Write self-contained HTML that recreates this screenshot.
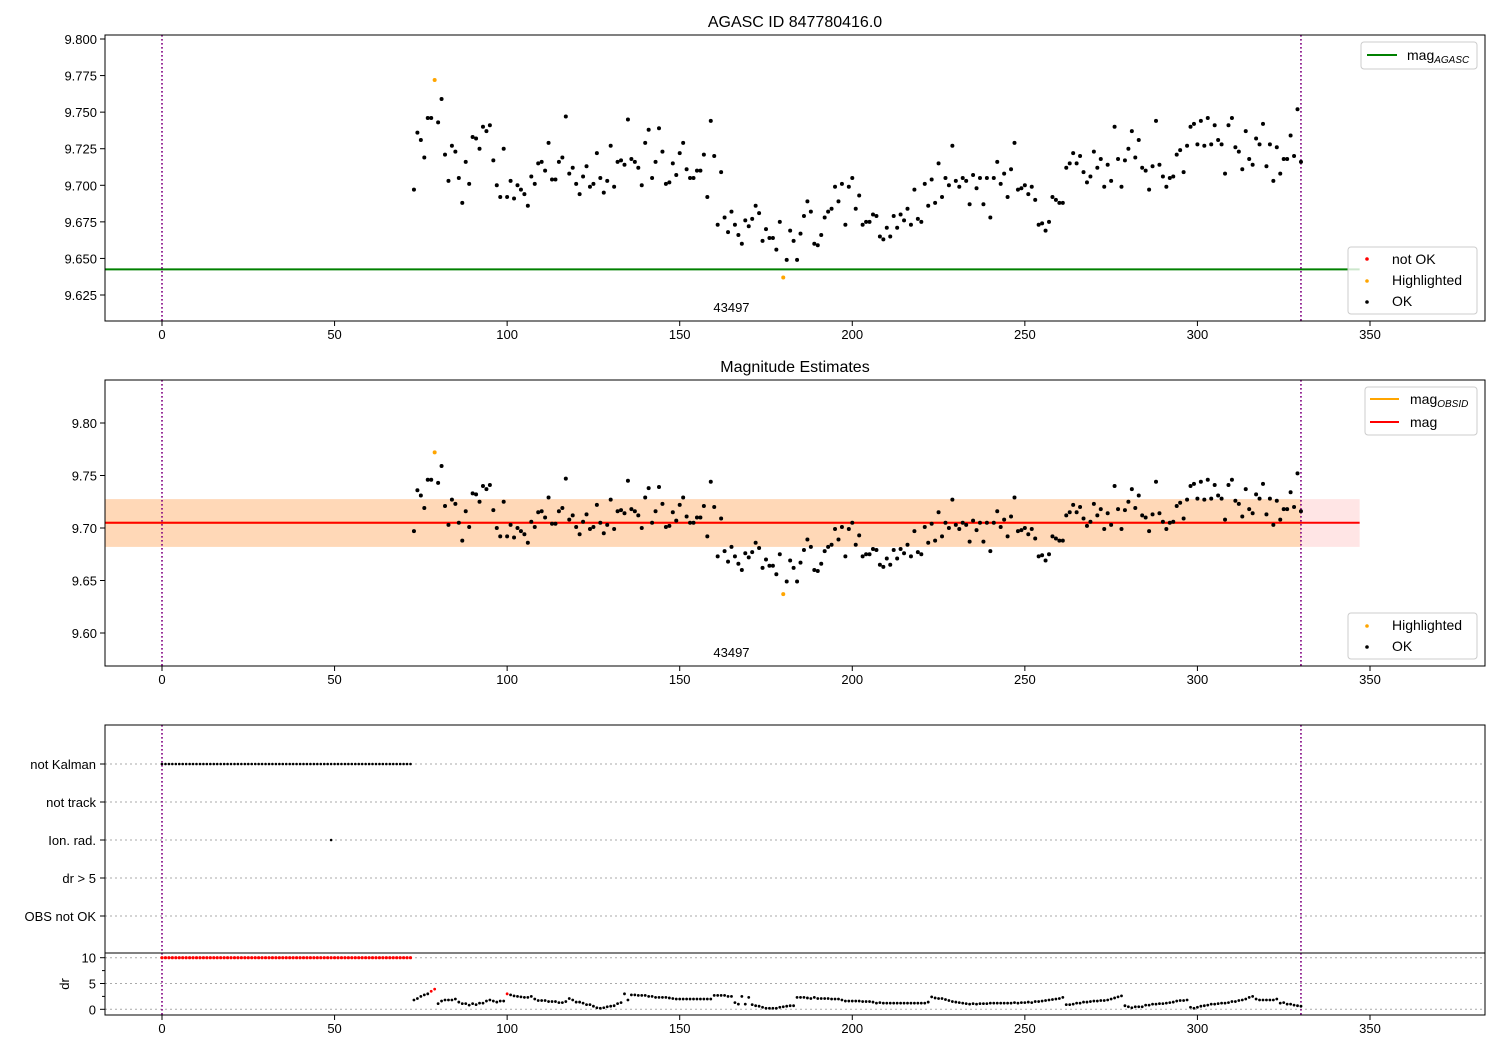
<!DOCTYPE html>
<html><head><meta charset="utf-8"><style>
html,body{margin:0;padding:0;background:#fff;}
svg{display:block;font-family:"Liberation Sans","DejaVu Sans",sans-serif;}
</style></head><body>
<svg id="chart" width="1500" height="1050" viewBox="0 0 1500 1050" xmlns="http://www.w3.org/2000/svg"></svg>
<script>
// ---- data ----
const magStart = 73;
const magValues = [9.697,9.736,9.731,9.719,9.746,9.746,9.772,9.743,9.759,9.721,
9.703,9.727,9.723,9.705,9.688,9.716,9.701,9.733,9.732,9.725,
9.740,9.737,9.741,9.717,9.700,9.692,9.725,9.692,9.703,9.691,
9.700,9.697,9.694,9.686,9.706,9.701,9.715,9.716,9.710,9.729,
9.704,9.704,9.716,9.719,9.747,9.708,9.712,9.701,9.694,9.706,
9.713,9.699,9.701,9.722,9.705,9.695,9.703,9.727,9.699,9.716,
9.717,9.714,9.745,9.718,9.716,9.712,
9.700,9.729,9.738,9.705,9.716,9.739,9.723,9.701,9.702,9.715,
9.707,9.722,9.729,9.711,9.705,9.705,9.710,9.710,9.721,9.692,
9.744,9.720,9.673,9.709,9.678,9.668,9.682,9.673,9.666,9.660,
9.676,9.672,9.677,9.686,9.681,9.662,9.670,9.664,9.664,9.656,
9.675,9.637,9.649,9.669,9.662,9.649,9.667,9.679,9.689,9.682,
9.660,9.659,9.666,9.678,9.682,9.684,9.699,9.689,9.701,9.673,
9.699,9.705,9.684,9.693,9.673,9.675,
9.675,9.680,9.679,9.665,9.663,9.671,9.665,9.679,9.671,9.680,
9.676,9.684,9.673,9.697,9.677,9.675,9.701,9.686,9.704,9.688,
9.715,9.692,9.705,9.700,9.727,9.703,9.699,9.705,9.703,9.687,
9.707,9.698,9.705,9.687,9.705,9.678,9.705,9.716,9.701,9.708,
9.692,9.711,9.729,9.697,9.698,9.700,9.694,9.699,9.690,9.673,
9.674,9.669,9.675,9.692,9.690,9.688,9.688,9.712,9.715,9.722,
9.715,9.720,9.709,9.702,
9.706,9.723,9.712,9.718,9.699,9.714,9.703,9.740,9.718,9.699,
9.717,9.725,9.737,9.719,9.731,9.712,9.710,9.697,9.713,9.744,
9.714,9.706,9.699,9.705,9.706,9.721,9.724,9.709,9.727,9.740,
9.742,9.728,9.744,9.727,9.746,9.728,9.741,9.731,9.728,9.708,
9.741,9.746,9.726,9.723,9.711,9.737,9.718,9.714,9.732,9.728,
9.742,9.713,9.728,9.703,9.726,9.708,9.718,9.718,9.734,9.720,
9.752,9.716];
const highlightedIdx = [79,180];
const drValues = [1.8,2.1,2.5,2.8,3.0,3.5,3.9,
1.1,1.6,1.8,1.8,1.8,2.0,1.4,1.1,1.1,0.8,1.1,0.9,1.2,1.2,1.6,1.8,1.6,1.4,1.6,1.6,
3.0,2.8,2.6,2.5,2.4,2.3,2.3,2.5,2.0,1.7,1.7,1.7,1.5,1.5,1.5,1.3,1.3,1.5,2.1,1.8,
1.4,1.4,1.2,0.9,0.9,0.6,0.3,0.2,0.3,0.5,0.6,0.7,1.1,1.3,3.0,1.8,2.8,2.8,2.7,2.7,
2.7,2.5,2.5,2.3,2.3,2.3,2.3,2.2,2.1,2.0,2.0,2.0,2.0,2.0,2.0,2.0,2.0,2.0,2.0,2.0,
2.7,2.7,2.7,2.7,2.5,2.5,1.3,1.0,2.5,1.0,2.3,0.9,0.7,0.6,0.4,0.2,0.2,0.2,0.2,0.4,
0.5,0.6,0.7,0.7,2.3,2.3,2.3,2.2,2.1,2.3,2.1,2.1,2.1,2.1,2.0,2.0,2.0,1.8,1.6,1.6,
1.6,1.6,1.6,1.5,1.5,1.5,1.4,1.2,1.3,1.2,1.2,1.2,1.2,1.2,1.2,1.2,1.2,1.2,1.2,1.2,1.2,1.2,1.4,
2.4,2.2,2.1,2.1,1.9,1.7,1.5,1.4,1.3,1.2,1.1,1.0,1.1,1.0,1.1,
1.1,1.1,1.2,1.2,1.2,1.2,1.2,1.2,1.2,1.3,1.2,1.3,1.3,1.4,1.3,1.5,1.5,1.6,1.7,1.8,1.9,2.0,2.1,2.3,
0.9,0.9,1.0,1.2,1.2,1.4,1.4,1.5,1.6,1.6,1.7,1.7,1.8,2.0,2.2,2.4,2.6,
0.7,0.5,0.3,0.5,0.5,0.5,0.8,0.8,1.0,1.0,1.1,1.1,1.2,1.3,1.4,1.6,1.7,1.7,1.8,
0.4,0.2,0.4,0.6,0.7,0.8,1.0,1.0,1.1,1.2,1.2,1.3,1.5,1.5,1.7,1.8,2.0,2.3,2.5,
2.0,1.8,1.8,1.8,1.8,1.8,2.0,1.2,1.3,1.0,1.0,0.8,0.7,0.6];
const drRedIdx = [78,79,100];
const notKalmanStart = 0, notKalmanEnd = 72;
const earlyDr = 10;
const ionRadIdx = [49];
const magAgasc = 9.6425;
const magMean = 9.705;
const magObsid = 9.705;
const magBandLo = 9.682, magBandHi = 9.7275;
const obsStart = 0, obsEnd = 330, lineEnd = 347;
const obsLabel = "43497";
const obsLabelX = 165;
const xTicks = [0,50,100,150,200,250,300,350];
const topYTicks = [9.625,9.650,9.675,9.700,9.725,9.750,9.775,9.800];
const midYTicks = [9.60,9.65,9.70,9.75,9.80];
const categories = ["not Kalman","not track","Ion. rad.","dr > 5","OBS not OK"];
const drTicks = [0,5,10];

// ---- helpers ----
const NS = "http://www.w3.org/2000/svg";
const svg = document.getElementById('chart');
function el(tag, attrs, parent){const e=document.createElementNS(NS,tag);for(const k in attrs)e.setAttribute(k,attrs[k]);(parent||svg).appendChild(e);return e;}
const X0=105,X1=1485;
const xs = v => 162 + v*3.4514;
const yTop = v => 39 + (9.800 - v)*1462.9;
const yMid = v => 423 + (9.80 - v)*1050;
const yCat = i => 764 + i*38;
const yDr = v => 1009.3 - v*5.16;

function clip(id,y0,y1){const c=el('clipPath',{id:id});el('rect',{x:X0,y:y0,width:X1-X0,height:y1-y0},c);}
clip('cTop',35,321);clip('cMid',380,666);clip('cCat',725,953);clip('cDr',953,1015);

function xAxis(yb,g,name){
  xTicks.forEach(t=>{
    const l=el('line',{x1:xs(t),x2:xs(t),y1:yb,y2:yb+5,stroke:'#000','stroke-width':1},g);
    
    const tx=el('text',{x:xs(t),y:yb+18,'font-size':13,'text-anchor':'middle'},g);tx.textContent=t;
    
  });
}
function frame(y0,y1,g,name){const r=el('rect',{x:X0,y:y0,width:X1-X0,height:y1-y0,fill:'none',stroke:'#000','stroke-width':1},g);}
function vlines(g,y0,y1){[obsStart,obsEnd].forEach(v=>{const l=el('line',{x1:xs(v),x2:xs(v),y1:y0,y2:y1,stroke:'#800080','stroke-width':1.6,'stroke-dasharray':'1.6,2.4'},g);});}
function dot(g,x,y,c,r){const d=el('circle',{cx:x,cy:y,r:r||2,fill:c},g);return d;}
function legendBox(g,x,y,w,h){el('rect',{x:x,y:y,width:w,height:h,rx:3,fill:'#fff','fill-opacity':0.8,stroke:'#ccc'},g);}
function txt(g,x,y,s,size,anchor,name){const t=el('text',{x:x,y:y,'font-size':size,'text-anchor':anchor||'start'},g);t.textContent=s;return t;}

// ---- top panel ----
const gT=el('g',{});
txt(gT,795,27,"AGASC ID 847780416.0",16,'middle','top-title');
const gTd=el('g',{'clip-path':'url(#cTop)'},gT);
const agl=el('line',{x1:X0,x2:xs(lineEnd),y1:yTop(magAgasc),y2:yTop(magAgasc),stroke:'#008000','stroke-width':2},gTd);

vlines(gTd,35,321);
magValues.forEach((v,i)=>{const idx=magStart+i;const hl=highlightedIdx.includes(idx);
  const d=dot(gTd,xs(idx),yTop(v),hl?'orange':'#000');
  });
txt(gT,xs(obsLabelX),312,obsLabel,13,'middle','obsid-label-top');
frame(35,321,gT,'top');xAxis(321,gT,'top');
topYTicks.forEach(t=>{el('line',{x1:X0-5,x2:X0,y1:yTop(t),y2:yTop(t),stroke:'#000'},gT);txt(gT,97,yTop(t)+5,t.toFixed(3),13,'end','top-y-tick-label');});
const lg1=el('g',{},gT);
legendBox(lg1,1361,42,116,27);el('line',{x1:1367,x2:1397,y1:55,y2:55,stroke:'#008000','stroke-width':2},lg1);
const t1=txt(lg1,1407,60,"mag",14,'start','legend-mag-agasc');const s1=el('tspan',{'font-size':10,'font-style':'italic',dy:3},t1);s1.textContent="AGASC";
const lg2=el('g',{},gT);
legendBox(lg2,1348,247,129,67);
dot(lg2,1367,259,'red',1.8);txt(lg2,1392,264,"not OK",14,'start','legend-not-ok');
dot(lg2,1367,281,'orange',1.8);txt(lg2,1392,285,"Highlighted",14,'start','legend-highlighted');
dot(lg2,1367,302,'#000',1.8);txt(lg2,1392,306,"OK",14,'start','legend-ok');

// ---- middle panel ----
const gM=el('g',{});
txt(gM,795,372,"Magnitude Estimates",16,'middle','mid-title');
const gMd=el('g',{'clip-path':'url(#cMid)'},gM);
const b1=el('rect',{x:X0,y:yMid(magBandHi),width:xs(lineEnd)-X0,height:yMid(magBandLo)-yMid(magBandHi),fill:'red','fill-opacity':0.1},gMd);

const b2=el('rect',{x:X0,y:yMid(magBandHi),width:xs(obsEnd)-X0,height:yMid(magBandLo)-yMid(magBandHi),fill:'orange','fill-opacity':0.2},gMd);

const ol=el('line',{x1:X0,x2:xs(obsEnd),y1:yMid(magObsid),y2:yMid(magObsid),stroke:'orange','stroke-width':2},gMd);

const rl=el('line',{x1:X0,x2:xs(lineEnd),y1:yMid(magMean),y2:yMid(magMean),stroke:'red','stroke-width':2},gMd);

vlines(gMd,380,666);
magValues.forEach((v,i)=>{const idx=magStart+i;const hl=highlightedIdx.includes(idx);
  const d=dot(gMd,xs(idx),yMid(v),hl?'orange':'#000');
  });
txt(gM,xs(obsLabelX),657,obsLabel,13,'middle','obsid-label-mid');
frame(380,666,gM,'mid');xAxis(666,gM,'mid');
midYTicks.forEach(t=>{el('line',{x1:X0-5,x2:X0,y1:yMid(t),y2:yMid(t),stroke:'#000'},gM);txt(gM,97,yMid(t)+5,t.toFixed(2),13,'end','mid-y-tick-label');});
const lg3=el('g',{},gM);
legendBox(lg3,1365,387,112,48);
el('line',{x1:1370,x2:1399,y1:399,y2:399,stroke:'orange','stroke-width':2},lg3);
const t3=txt(lg3,1410,404,"mag",14,'start','legend-mag-obsid');const s3=el('tspan',{'font-size':10,'font-style':'italic',dy:3},t3);s3.textContent="OBSID";
el('line',{x1:1370,x2:1399,y1:422,y2:422,stroke:'red','stroke-width':2},lg3);
txt(lg3,1410,427,"mag",14,'start','legend-mag');
const lg4=el('g',{},gM);
legendBox(lg4,1348,613,129,46);
dot(lg4,1367,626,'orange',1.8);txt(lg4,1392,630,"Highlighted",14,'start','legend-highlighted');
dot(lg4,1367,647,'#000',1.8);txt(lg4,1392,651,"OK",14,'start','legend-ok');

// ---- flags panel ----
const gC=el('g',{});
categories.forEach((c,i)=>{el('line',{x1:X0,x2:X1,y1:yCat(i),y2:yCat(i),stroke:'#aaa','stroke-dasharray':'2,3','stroke-width':1},gC);
  el('line',{x1:X0-5,x2:X0,y1:yCat(i),y2:yCat(i),stroke:'#000'},gC);
  txt(gC,96,yCat(i)+5,c,13,'end','category-label');});
const gCd=el('g',{'clip-path':'url(#cCat)'},gC);
vlines(gCd,725,953);
for(let i=notKalmanStart;i<=notKalmanEnd;i++){const d=dot(gCd,xs(i),yCat(0),'#000',1.3);}
ionRadIdx.forEach(i=>{const d=dot(gCd,xs(i),yCat(2),'#000',1.3);});
frame(725,953,gC,'flags');

// ---- dr panel ----
const gD=el('g',{});
drTicks.forEach(t=>{el('line',{x1:X0,x2:X1,y1:yDr(t),y2:yDr(t),stroke:'#aaa','stroke-dasharray':'2,3'},gD);
  el('line',{x1:X0-5,x2:X0,y1:yDr(t),y2:yDr(t),stroke:'#000'},gD);
  txt(gD,96,yDr(t)+5,t,13,'end','dr-tick-label');});
[2.5,7.5].forEach(t=>el('line',{x1:X0-3,x2:X0,y1:yDr(t),y2:yDr(t),stroke:'#000'},gD));
const dl=txt(gD,0,0,"dr",13,'middle','dr-axis-title');dl.setAttribute('transform','translate(69,984) rotate(-90)');
const gDd=el('g',{'clip-path':'url(#cDr)'},gD);
vlines(gDd,953,1015);
for(let i=notKalmanStart;i<=notKalmanEnd;i++){const d=dot(gDd,xs(i),yDr(earlyDr),'red',1.6);}
drValues.forEach((v,i)=>{const idx=magStart+i;const r=drRedIdx.includes(idx);
  const d=dot(gDd,xs(idx),yDr(v),r?'red':'#000',1.4);});
frame(953,1015,gD,'dr');xAxis(1015,gD,'dr');
</script>
</body></html>
